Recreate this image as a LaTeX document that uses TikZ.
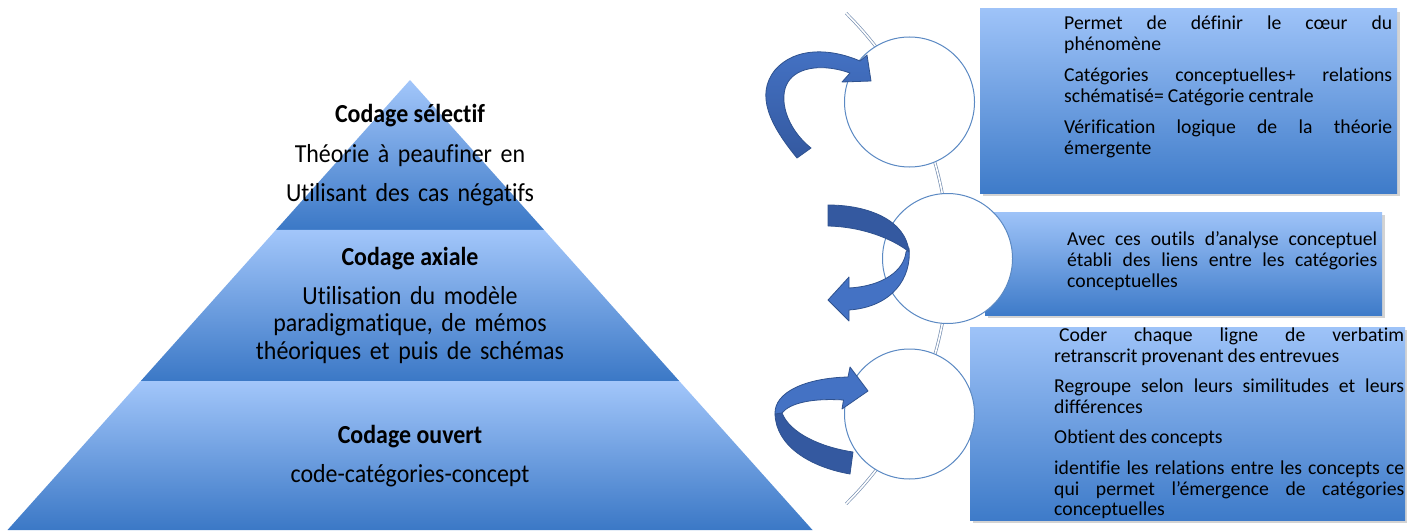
\documentclass[tikz,border=0pt]{standalone}
\usepackage{fontspec}
\setmainfont{Carlito}[Ligatures=NoCommon]
\newfontfamily\pyrfont{Carlito}[Ligatures=NoCommon, FakeStretch=0.92]
\newfontfamily\boxfont{Carlito}[Ligatures=NoCommon, WordSpace=0.9]
\usepackage{tikz}
\usetikzlibrary{calc,shadows}
\hyphenpenalty=10000
\exhyphenpenalty=10000
\tolerance=9999

\definecolor{pyrtop}{HTML}{A2C6FA}
\definecolor{pyrbot}{HTML}{3B78C6}
\definecolor{boxtop}{HTML}{9EC3F8}
\definecolor{boxbot}{HTML}{3E7BC9}
\definecolor{ringline}{HTML}{5B89C3}
\definecolor{spineline}{HTML}{7890B2}
\definecolor{arrlight}{HTML}{4472C4}
\definecolor{arrdark}{HTML}{3459A0}
\definecolor{arredge}{HTML}{2F528F}

\tikzset{
  tier/.style={top color=pyrtop, bottom color=pyrbot},
  tiertitle/.style={anchor=base, inner sep=0pt, font={\pyrfont\fontsize{26}{27.7}\selectfont\bfseries}},
  tiertext/.style={anchor=base, inner sep=0pt, text width=420pt, align=center, font={\pyrfont\fontsize{26}{27.7}\selectfont}},
  infobox/.style={rectangle, top color=boxtop, bottom color=boxbot,
    drop shadow={shadow xshift=3pt, shadow yshift=-3pt, opacity=0.35}},
  infotext/.style={anchor=base west, inner sep=0pt, align=justify,
    font={\boxfont\fontsize{19.7}{20.8}\selectfont}},
  ring/.style={circle, minimum size=130pt, fill=white, draw=ringline, line width=1pt},
  spine/.style={draw=spineline, double=white, double distance=1.6pt, line width=0.7pt},
  arrpiece/.style={draw=arredge, line width=0.8pt, line join=round}
}

\begin{document}
\begin{tikzpicture}[x=1pt, y=-1pt]
    \useasboundingbox (0,0) rectangle (1407,532);

    \def\ta{1/3}
    \def\tb{0.6689}

    \coordinate (apex) at (410,80);
    \coordinate (bl) at (7.5,530);
    \coordinate (br) at (812.5,530);

    % pyramide
    \shade[tier] (apex) -- ($(apex)!\ta!(br)$) -- ($(apex)!\ta!(bl)$) -- cycle;
    \shade[tier] ($(apex)!\ta!(bl)$) -- ($(apex)!\ta!(br)$) -- ($(apex)!\tb!(br)$) -- ($(apex)!\tb!(bl)$) -- cycle;
    \shade[tier] ($(apex)!\tb!(bl)$) -- ($(apex)!\tb!(br)$) -- (br) -- (bl) -- cycle;

    \node[tiertitle] (sel) at (410,123) {Codage sélectif};
    \node[tiertext] (selb) at (410,162) {Théorie à peaufiner en\\[11.3pt]Utilisant des cas négatifs};
    \node[tiertitle] (axi) at (410,265) {Codage axiale};
    \node[tiertext] (axib) at (410,304) {Utilisation du modèle\\paradigmatique, de mémos\\théoriques et puis de schémas};
    \node[tiertitle] (ouv) at (410,443) {Codage ouvert};
    \node[tiertext] (ouvb) at (410,482) {code-catégories-concept};

    % boites
    \node[infobox, minimum width=417pt, minimum height=184pt] (b1) at (1188.5,101) {};
    \node[infobox, minimum width=397pt, minimum height=103pt] (b2) at (1183.5,263.5) {};
    \node[infobox, minimum width=435pt, minimum height=193pt] (b3) at (1187.5,423.5) {};

    \node[infotext, text width=328pt] (t1) at (1064,29.5) {\setlength{\parskip}{10.3pt}%
      Permet de définir le cœur du\linebreak phénomène\par
      Catégories conceptuelles+ relations\linebreak schématisé= Catégorie centrale\par
      Vérification logique de la théorie\linebreak émergente};
    \node[infotext, text width=310pt] (t2) at (1067,245.7) {%
      Avec ces outils d’analyse conceptuel\linebreak établi des liens entre les catégories\linebreak conceptuelles};
    \node[infotext, text width=350pt] (t3) at (1054,341.7) {\setlength{\parskip}{9.5pt}%
      \hspace*{5pt}Coder chaque ligne de verbatim\linebreak retranscrit provenant des entrevues\par
      Regroupe selon leurs similitudes et leurs\linebreak différences\par
      Obtient des concepts\par
      identifie les relations entre les concepts ce\linebreak qui permet l’émergence de catégories\linebreak conceptuelles};

    % cercles
    \coordinate (sptop) at ($(603.5,258.5)+(-45.3:345)$);
    \draw[spine] (sptop) arc[start angle=-45.3, end angle=45.3, radius=345] coordinate (spbot);

    \node[ring] (c1) at (909.5,102) {};
    \node[ring] (c2) at (947.5,258.5) {};
    \node[ring] (c3) at (909.5,414) {};

    % fleches
    \shadedraw[arrpiece, top color=arrlight, bottom color=arrdark]
      (797,158) .. controls (770,125) and (755,95) .. (775,70)
      .. controls (795,47) and (830,48) .. (860,61) -- (867,55) -- (871,81) -- (842,82) -- (850,73)
      .. controls (825,64) and (798,66) .. (788,82)
      .. controls (778,98) and (786,128) .. (811,148) -- cycle;

    \filldraw[arrpiece, fill=arrlight]
      (909,248) .. controls (912,278) and (892,307) .. (849,310) -- (849,321) -- (828,300) -- (849,277) -- (849,288)
      .. controls (884,286) and (904,270) .. (906,252) -- cycle;
    \filldraw[arrpiece, fill=arrdark]
      (828,205) .. controls (868,205) and (906,220) .. (909,252)
      .. controls (900,244) and (870,227) .. (828,226) -- cycle;

    \filldraw[arrpiece, fill=arrdark]
      (853,452) -- (850,474) .. controls (810,467) and (776,446) .. (775,414) -- (782,413)
      .. controls (790,433) and (820,447) .. (853,452) -- cycle;
    \filldraw[arrpiece, fill=arrlight]
      (775,414) .. controls (774,392) and (806,378) .. (848,377) -- (850,367) -- (868,391) -- (842,409) -- (843.5,400)
      .. controls (812,398) and (790,403) .. (782,413) -- cycle;
\end{tikzpicture}
\end{document}
